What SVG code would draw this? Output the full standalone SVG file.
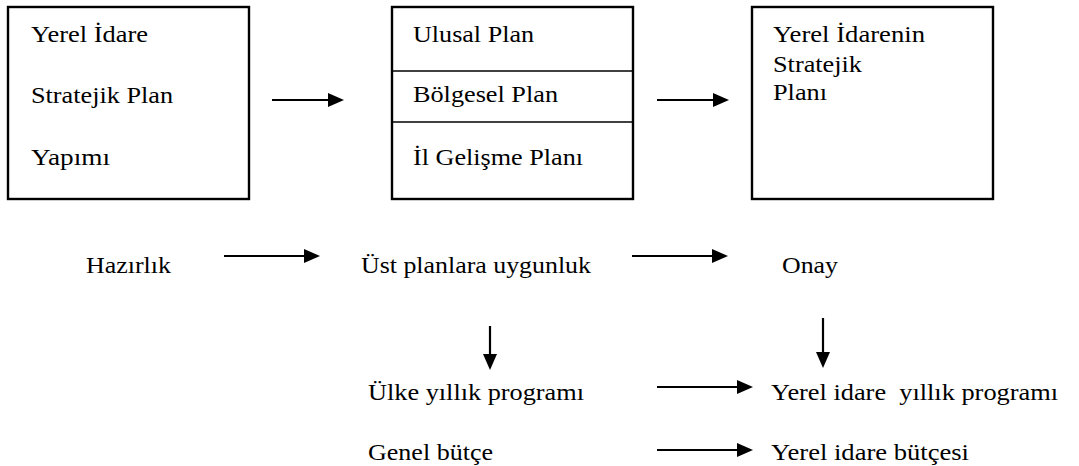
<svg xmlns="http://www.w3.org/2000/svg" width="1079" height="466" viewBox="0 0 1079 466">
  <style>
    .box { fill: #fff; stroke: #000; stroke-width: 2.4; }
    .div { stroke: #000; stroke-width: 1.6; }
    text { font-size: 24px; fill: #000; white-space: pre; }
    .c line { stroke: #000; stroke-width: 2.2; marker-end: url(#head); }
  </style>
  <defs>
    <marker id="head" viewBox="0 0 16 14" markerWidth="16" markerHeight="14" refX="0" refY="7" orient="auto" markerUnits="userSpaceOnUse">
      <path d="M0,0 L16,7 L0,14 Z" fill="#000"/>
    </marker>
  </defs>
  <rect width="1079" height="466" fill="#fff"/>

  <g font-family="Liberation Serif, DejaVu Serif, serif">
    <!-- top row: three boxes -->
    <g id="preparation-box">
      <rect class="box" x="8" y="7" width="241" height="192"/>
      <text x="31" y="42" textLength="117" lengthAdjust="spacingAndGlyphs">Yerel İdare</text>
      <text x="31" y="103" textLength="142" lengthAdjust="spacingAndGlyphs">Stratejik Plan</text>
      <text x="31" y="165" textLength="79" lengthAdjust="spacingAndGlyphs">Yapımı</text>
    </g>
    <g id="upper-plans-box">
      <rect class="box" x="392" y="7" width="241" height="192"/>
      <line class="div" x1="392" y1="71" x2="633" y2="71"/>
      <line class="div" x1="392" y1="122" x2="633" y2="122"/>
      <text x="413" y="42" textLength="121" lengthAdjust="spacingAndGlyphs">Ulusal Plan</text>
      <text x="413" y="102" textLength="145" lengthAdjust="spacingAndGlyphs">Bölgesel Plan</text>
      <text x="413" y="165" textLength="170" lengthAdjust="spacingAndGlyphs">İl Gelişme Planı</text>
    </g>
    <g id="approved-plan-box">
      <rect class="box" x="752" y="7" width="241" height="192"/>
      <text x="773" y="42" textLength="152" lengthAdjust="spacingAndGlyphs">Yerel İdarenin</text>
      <text x="773" y="72" textLength="89" lengthAdjust="spacingAndGlyphs">Stratejik</text>
      <text x="773" y="100" textLength="54" lengthAdjust="spacingAndGlyphs">Planı</text>
    </g>

    <!-- process steps -->
    <g id="step-hazirlik"><text x="86" y="273" textLength="85" lengthAdjust="spacingAndGlyphs">Hazırlık</text></g>
    <g id="step-uygunluk"><text x="361" y="273" textLength="230" lengthAdjust="spacingAndGlyphs">Üst planlara uygunluk</text></g>
    <g id="step-onay"><text x="782" y="273" textLength="56" lengthAdjust="spacingAndGlyphs">Onay</text></g>

    <!-- outputs -->
    <g id="country-program"><text x="368" y="400" textLength="216" lengthAdjust="spacingAndGlyphs">Ülke yıllık programı</text></g>
    <g id="local-program"><text x="771" y="400" textLength="287" lengthAdjust="spacingAndGlyphs">Yerel idare  yıllık programı</text></g>
    <g id="general-budget"><text x="368" y="460" textLength="125" lengthAdjust="spacingAndGlyphs">Genel bütçe</text></g>
    <g id="local-budget"><text x="771" y="460" textLength="198" lengthAdjust="spacingAndGlyphs">Yerel idare bütçesi</text></g>
  </g>

  <!-- connectors -->
  <g class="c" id="connectors">
    <line x1="272" y1="100" x2="328" y2="100"/>
    <line x1="657" y1="100" x2="713" y2="100"/>
    <line x1="224" y1="256" x2="304" y2="256"/>
    <line x1="632" y1="256" x2="712" y2="256"/>
    <line x1="490" y1="326" x2="490" y2="354"/>
    <line x1="823" y1="318" x2="823" y2="352"/>
    <line x1="657" y1="387" x2="737" y2="387"/>
    <line x1="657" y1="450" x2="737" y2="450"/>
  </g>
</svg>
